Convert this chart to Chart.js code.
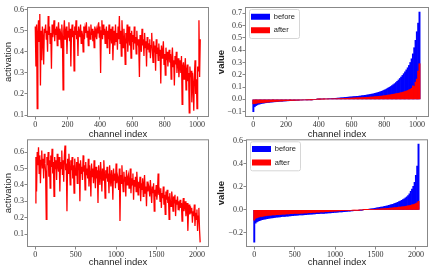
<!DOCTYPE html>
<html>
<head>
<meta charset="utf-8">
<script src="https://cdn.jsdelivr.net/npm/chart.js@4/dist/chart.umd.min.js"></script>
<style>
  body { margin: 0; background: #fff; }
  #wrap { position: relative; width: 436px; height: 269px; overflow: hidden; }
  canvas { position: absolute; }
</style>
</head>
<body>
<div id="wrap">
  <canvas id="act-top" width="218" height="140" style="left:0;top:0"></canvas>
  <canvas id="val-top" width="224" height="140" style="left:212px;top:0"></canvas>
  <canvas id="act-bottom" width="218" height="135" style="left:0;top:134px"></canvas>
  <canvas id="val-bottom" width="224" height="135" style="left:212px;top:134px"></canvas>
</div>
<script>
// ! activation per channel (every 4th channel of 1024)
const actTopStep = 4;
const actTop = [
  0.52,0.33,0.53,0.13,0.49,0.55,0.45,0.58,0.24,0.50,0.36,0.52,0.47,0.34,0.51,0.49,
  0.53,0.46,0.50,0.40,0.57,0.48,0.52,0.44,0.49,0.32,0.53,0.47,0.50,0.55,0.45,0.51,
  0.48,0.52,0.43,0.50,0.54,0.46,0.51,0.49,0.42,0.53,0.47,0.22,0.50,0.55,0.46,0.49,
  0.52,0.39,0.50,0.47,0.54,0.45,0.51,0.33,0.49,0.53,0.47,0.50,0.31,0.52,0.48,0.55,
  0.46,0.50,0.38,0.52,0.49,0.47,0.53,0.44,0.50,0.48,0.40,0.52,0.46,0.51,0.49,0.54,
  0.47,0.50,0.43,0.52,0.49,0.46,0.53,0.48,0.51,0.45,0.50,0.42,0.52,0.48,0.50,0.46,
  0.51,0.49,0.54,0.47,0.52,0.30,0.50,0.55,0.46,0.53,0.48,0.51,0.44,0.49,0.52,0.42,
  0.50,0.46,0.53,0.39,0.48,0.51,0.44,0.52,0.36,0.47,0.50,0.43,0.53,0.45,0.49,0.41,
  0.52,0.46,0.57,0.44,0.50,0.38,0.55,0.47,0.42,0.51,0.46,0.34,0.49,0.44,0.53,0.40,
  0.47,0.52,0.43,0.49,0.37,0.50,0.45,0.48,0.41,0.52,0.44,0.47,0.39,0.50,0.43,0.46,
  0.42,0.28,0.48,0.44,0.40,0.51,0.43,0.46,0.38,0.49,0.42,0.45,0.33,0.47,0.41,0.44,
  0.40,0.46,0.37,0.43,0.49,0.41,0.35,0.45,0.40,0.43,0.31,0.46,0.39,0.42,0.36,0.44,
  0.38,0.41,0.25,0.43,0.37,0.40,0.45,0.34,0.39,0.29,0.42,0.36,0.40,0.33,0.38,0.41,
  0.35,0.39,0.27,0.37,0.42,0.33,0.36,0.24,0.38,0.34,0.40,0.30,0.35,0.37,0.28,0.33,
  0.36,0.30,0.38,0.15,0.33,0.35,0.27,0.32,0.37,0.22,0.31,0.34,0.26,0.30,0.11,0.33,
  0.28,0.31,0.16,0.30,0.25,0.12,0.29,0.36,0.20,0.27,0.13,0.33,0.31,0.55,0.28,0.46
];

// ! activation per channel (every 8th channel of 2048)
const actBottomStep = 8;
const actBottom = [
  0.29,0.57,0.36,0.60,0.52,0.63,0.47,0.58,0.41,0.55,0.61,0.50,0.56,0.44,0.59,0.53,
  0.48,0.19,0.57,0.52,0.60,0.45,0.55,0.38,0.58,0.51,0.62,0.47,0.54,0.33,0.57,0.50,
  0.55,0.43,0.59,0.52,0.48,0.57,0.36,0.54,0.50,0.61,0.46,0.55,0.42,0.58,0.64,0.49,
  0.53,0.24,0.56,0.47,0.59,0.51,0.40,0.55,0.49,0.57,0.44,0.52,0.35,0.56,0.50,0.46,
  0.54,0.41,0.57,0.49,0.53,0.30,0.55,0.47,0.51,0.43,0.58,0.48,0.52,0.37,0.54,0.46,
  0.50,0.44,0.56,0.39,0.52,0.47,0.33,0.53,0.45,0.50,0.41,0.55,0.46,0.38,0.51,0.44,
  0.49,0.29,0.52,0.45,0.40,0.54,0.47,0.36,0.50,0.43,0.55,0.46,0.32,0.49,0.44,0.51,
  0.42,0.47,0.35,0.52,0.44,0.39,0.49,0.45,0.31,0.50,0.43,0.47,0.38,0.53,0.41,0.46,
  0.44,0.37,0.50,0.18,0.46,0.41,0.52,0.43,0.36,0.48,0.42,0.45,0.33,0.49,0.40,0.44,
  0.46,0.38,0.42,0.50,0.35,0.44,0.40,0.47,0.31,0.43,0.39,0.45,0.36,0.48,0.41,0.34,
  0.42,0.38,0.45,0.30,0.41,0.37,0.44,0.33,0.40,0.46,0.35,0.39,0.27,0.42,0.36,0.40,
  0.38,0.33,0.43,0.36,0.29,0.39,0.35,0.41,0.24,0.37,0.33,0.40,0.31,0.36,0.47,0.34,
  0.36,0.30,0.38,0.26,0.35,0.32,0.39,0.28,0.34,0.22,0.36,0.31,0.37,0.29,0.33,0.19,
  0.35,0.30,0.27,0.36,0.32,0.24,0.33,0.29,0.34,0.21,0.31,0.28,0.33,0.25,0.30,0.27,
  0.31,0.26,0.29,0.18,0.28,0.32,0.24,0.27,0.30,0.21,0.26,0.29,0.12,0.25,0.28,0.22,
  0.27,0.23,0.26,0.17,0.24,0.21,0.28,0.15,0.23,0.19,0.25,0.12,0.21,0.26,0.13,0.05
];

// ! sorted values, 1024 channels (every 8th)
const valTopStep = 8;
const beforeTop = [
  -0.100,-0.060,-0.050,-0.045,-0.040,-0.037,-0.034,-0.032,
  -0.030,-0.028,-0.027,-0.025,-0.024,-0.023,-0.022,-0.021,
  -0.020,-0.019,-0.018,-0.017,-0.016,-0.015,-0.015,-0.014,
  -0.013,-0.012,-0.012,-0.011,-0.010,-0.010,-0.009,-0.008,
  -0.008,-0.007,-0.007,-0.006,-0.005,-0.005,-0.004,-0.004,
  -0.003,-0.003,-0.002,-0.002,-0.001,-0.001,0.000,0.000,
  0.000,0.001,0.001,0.002,0.002,0.003,0.003,0.004,
  0.004,0.005,0.006,0.006,0.007,0.008,0.008,0.009,
  0.010,0.011,0.012,0.013,0.014,0.015,0.016,0.017,
  0.018,0.019,0.020,0.021,0.022,0.023,0.024,0.025,
  0.026,0.027,0.028,0.030,0.031,0.033,0.034,0.036,
  0.038,0.040,0.042,0.044,0.046,0.049,0.052,0.055,
  0.058,0.062,0.066,0.070,0.075,0.080,0.086,0.092,
  0.098,0.105,0.112,0.120,0.128,0.137,0.147,0.158,
  0.170,0.182,0.195,0.209,0.224,0.240,0.257,0.276,
  0.300,0.330,0.370,0.420,0.480,0.550,0.620,0.710
];
const afterTop = [
  -0.036,-0.034,-0.032,-0.030,-0.029,-0.028,-0.027,-0.026,
  -0.025,-0.024,-0.023,-0.022,-0.021,-0.020,-0.019,-0.018,
  -0.017,-0.016,-0.016,-0.015,-0.014,-0.013,-0.013,-0.012,
  -0.011,-0.011,-0.010,-0.010,-0.009,-0.009,-0.008,-0.008,
  -0.007,-0.007,-0.006,-0.006,-0.005,-0.005,-0.004,-0.004,
  -0.003,-0.003,-0.002,-0.002,-0.001,-0.001,0.000,0.000,
  0.000,0.001,0.001,0.001,0.002,0.002,0.002,0.003,
  0.003,0.003,0.004,0.004,0.004,0.005,0.005,0.005,
  0.006,0.006,0.007,0.007,0.007,0.008,0.008,0.009,
  0.009,0.010,0.010,0.011,0.011,0.012,0.012,0.013,
  0.013,0.014,0.014,0.015,0.015,0.016,0.017,0.017,
  0.018,0.019,0.019,0.020,0.021,0.022,0.023,0.024,
  0.025,0.026,0.027,0.028,0.030,0.031,0.033,0.035,
  0.036,0.038,0.040,0.042,0.044,0.046,0.048,0.050,
  0.052,0.055,0.058,0.061,0.064,0.068,0.072,0.077,
  0.082,0.090,0.110,0.105,0.140,0.165,0.230,0.290
];

// ! sorted values, 2048 channels (every 16th)
const valBottomStep = 16;
const beforeBottom = [
  -0.280,-0.115,-0.105,-0.098,-0.093,-0.089,-0.086,-0.083,
  -0.080,-0.078,-0.076,-0.074,-0.072,-0.070,-0.069,-0.067,
  -0.066,-0.064,-0.063,-0.062,-0.061,-0.059,-0.058,-0.057,
  -0.056,-0.055,-0.054,-0.053,-0.052,-0.051,-0.050,-0.049,
  -0.048,-0.047,-0.046,-0.045,-0.044,-0.043,-0.043,-0.042,
  -0.041,-0.040,-0.039,-0.038,-0.038,-0.037,-0.036,-0.035,
  -0.034,-0.034,-0.033,-0.032,-0.031,-0.030,-0.030,-0.029,
  -0.028,-0.027,-0.026,-0.026,-0.025,-0.024,-0.023,-0.022,
  -0.021,-0.020,-0.019,-0.018,-0.017,-0.016,-0.015,-0.014,
  -0.013,-0.012,-0.011,-0.010,-0.009,-0.008,-0.006,-0.005,
  -0.004,-0.003,-0.002,-0.001,0.000,0.001,0.002,0.003,
  0.005,0.006,0.008,0.009,0.011,0.013,0.015,0.017,
  0.019,0.021,0.023,0.025,0.028,0.030,0.033,0.036,
  0.039,0.042,0.045,0.049,0.053,0.057,0.061,0.066,
  0.071,0.077,0.083,0.089,0.096,0.104,0.113,0.123,
  0.140,0.160,0.180,0.205,0.240,0.300,0.380,0.570
];
const afterBottom = [
  -0.090,-0.075,-0.068,-0.064,-0.061,-0.058,-0.056,-0.054,
  -0.052,-0.050,-0.049,-0.048,-0.047,-0.046,-0.045,-0.044,
  -0.043,-0.042,-0.041,-0.041,-0.040,-0.039,-0.038,-0.038,
  -0.037,-0.036,-0.036,-0.035,-0.034,-0.034,-0.033,-0.032,
  -0.032,-0.031,-0.030,-0.030,-0.029,-0.028,-0.028,-0.027,
  -0.026,-0.026,-0.025,-0.024,-0.024,-0.023,-0.022,-0.022,
  -0.021,-0.020,-0.020,-0.019,-0.018,-0.018,-0.017,-0.016,
  -0.016,-0.015,-0.014,-0.014,-0.013,-0.012,-0.012,-0.011,
  -0.010,-0.010,-0.009,-0.008,-0.008,-0.007,-0.006,-0.006,
  -0.005,-0.005,-0.004,-0.004,-0.003,-0.003,-0.002,-0.002,
  -0.001,-0.001,0.000,0.000,0.000,0.001,0.001,0.002,
  0.002,0.003,0.003,0.004,0.004,0.005,0.005,0.006,
  0.007,0.007,0.008,0.009,0.010,0.011,0.012,0.013,
  0.014,0.015,0.016,0.017,0.018,0.019,0.020,0.022,
  0.023,0.024,0.026,0.027,0.029,0.031,0.033,0.035,
  0.037,0.040,0.043,0.046,0.050,0.055,0.062,0.075
];

// ! tick labels
const ticks1024 = [0, 200, 400, 600, 800, 1000];
const ticks2048 = [0, 500, 1000, 1500, 2000];
const ticksActTop = [0.1, 0.2, 0.3, 0.4, 0.5, 0.6];
const ticksValTop = [-0.1, 0.0, 0.1, 0.2, 0.3, 0.4, 0.5, 0.6, 0.7];
const ticksActBottom = [0.1, 0.2, 0.3, 0.4, 0.5, 0.6];
const ticksValBottom = [-0.2, 0.0, 0.2, 0.4, 0.6];

const spine = '#888888';
const tickFont = { family: "'Liberation Serif', serif", size: 8 };
const titleFont = { family: "'Liberation Sans', sans-serif", size: 9.5 };

function points(values, step) {
  return values.map((v, i) => ({ x: i * step, y: v }));
}

function fmtY(v) {
  return (v < -1e-9 ? '\u2212' : '') + Math.abs(v).toFixed(1);
}

// ! box around the plot area, like matplotlib spines
const framePlugin = {
  id: 'frame',
  afterDatasetsDraw(chart) {
    const a = chart.chartArea;
    const ctx = chart.ctx;
    ctx.save();
    ctx.strokeStyle = spine;
    ctx.lineWidth = 1;
    ctx.strokeRect(a.left + 0.5, a.top + 0.5, a.right - a.left - 1, a.bottom - a.top - 1);
    ctx.restore();
  }
};

// ! legend sits in the upper left of the plot, with a light rounded box
const legendFrame = {
  id: 'legendFrame',
  afterLayout(chart) {
    // vertical legends get top = 0, move it down into the plot area
    const lg = chart.legend;
    if (!lg) return;
    const dy = chart.chartArea.top - lg.top;
    lg.top += dy;
    lg.bottom += dy;
    for (const h of lg.legendHitBoxes) h.top += dy;
  },
  beforeDraw(chart) {
    const lg = chart.legend;
    if (!lg || !lg.legendHitBoxes || !lg.legendHitBoxes.length) return;
    const hb = lg.legendHitBoxes;
    let l = Infinity, t = Infinity, r = -Infinity, b = -Infinity;
    for (const h of hb) {
      l = Math.min(l, h.left); t = Math.min(t, h.top);
      r = Math.max(r, h.left + h.width); b = Math.max(b, h.top + h.height);
    }
    const ctx = chart.ctx;
    const x = l - 2, y = t - 4, w = r - l + 6, h = b - t + 8;
    ctx.save();
    ctx.beginPath();
    ctx.roundRect(x + 0.5, y + 0.5, w, h, 2);
    ctx.fillStyle = 'rgba(255,255,255,0.8)';
    ctx.fill();
    ctx.strokeStyle = '#d6d6d6';
    ctx.lineWidth = 1;
    ctx.stroke();
    ctx.restore();
  }
};

function xAxis(min, max, ticks, height, titlePad) {
  return {
    type: 'linear', min: min, max: max, offset: false,
    afterBuildTicks: s => { s.ticks = ticks.map(v => ({ value: v })); },
    afterFit: s => { s.height = height; },
    grid: { display: true, offset: false, drawOnChartArea: false, drawTicks: true, tickLength: 2.5, color: spine },
    border: { display: false },
    ticks: { font: tickFont, color: '#333', padding: 1, maxRotation: 0, autoSkip: false, callback: v => String(v) },
    title: { display: true, text: 'channel index', font: titleFont, color: '#222', padding: { top: 0, bottom: titlePad } }
  };
}

function yAxis(min, max, ticks, width, label, bold, titlePad) {
  return {
    type: 'linear', min: min, max: max,
    afterBuildTicks: s => { s.ticks = ticks.map(v => ({ value: v })); },
    afterFit: s => { s.width = width; },
    grid: { display: true, drawOnChartArea: false, drawTicks: true, tickLength: 2.5, color: spine },
    border: { display: false },
    ticks: { font: tickFont, color: '#333', padding: 0.5, autoSkip: false, callback: v => fmtY(v) },
    title: {
      display: true, text: label, color: '#222',
      font: Object.assign({}, titleFont, { weight: bold ? 'bold' : 'normal' }),
      padding: { top: titlePad, bottom: 0 }
    }
  };
}

function activationChart(id, values, step, xr, xt, yr, yt, pad, xh, yw, xPad, yPad) {
  new Chart(id, {
    type: 'line',
    data: {
      datasets: [{
        data: points(values, step),
        borderColor: '#ff0000',
        borderWidth: 1.3,
        pointRadius: 0,
        tension: 0
      }]
    },
    options: {
      responsive: false,
      animation: false,
      layout: { padding: pad },
      plugins: { legend: { display: false }, tooltip: { enabled: false } },
      scales: {
        x: xAxis(xr[0], xr[1], xt, xh, xPad),
        y: yAxis(yr[0], yr[1], yt, yw, 'activation', false, yPad)
      }
    },
    plugins: [framePlugin]
  });
}

function valueChart(id, before, after, step, xr, xt, yr, yt, pad, xh, yw, xPad, yPad) {
  new Chart(id, {
    type: 'bar',
    data: {
      datasets: [
        { label: 'before', data: points(before, step), backgroundColor: '#0000ff', borderWidth: 0,
          grouped: false, order: 1, barPercentage: 1, categoryPercentage: 1 },
        { label: 'after', data: points(after, step), backgroundColor: '#ff0000', borderWidth: 0,
          grouped: false, order: 0, barPercentage: 1, categoryPercentage: 1 }
      ]
    },
    options: {
      responsive: false,
      animation: false,
      layout: { padding: pad },
      plugins: {
        tooltip: { enabled: false },
        legend: {
          position: 'chartArea', align: 'start',
          labels: {
            boxWidth: 19, boxHeight: 6, padding: 6, color: '#222',
            font: { family: "'Liberation Sans', sans-serif", size: 7.5 },
            sort: (a, b) => a.datasetIndex - b.datasetIndex
          }
        }
      },
      scales: {
        x: xAxis(xr[0], xr[1], xt, xh, xPad),
        y: yAxis(yr[0], yr[1], yt, yw, 'value', true, yPad)
      }
    },
    plugins: [legendFrame, framePlugin]
  });
}

activationChart('act-top', actTop, actTopStep, [-51.15, 1074.15], ticks1024,
  [0.0905, 0.613], ticksActTop, { top: 7, right: 9, left: 0, bottom: 0 }, 23, 27, 0.3, 3.1);

valueChart('val-top', beforeTop, afterTop, valTopStep, [-51.15, 1074.15], ticks1024,
  [-0.143, 0.751], ticksValTop, { top: 7, right: 7, left: 0, bottom: 0 }, 23, 33, 0.3, 3.5);

activationChart('act-bottom', actBottom, actBottomStep, [-102.35, 2149.35], ticks2048,
  [0.0217, 0.678], ticksActBottom, { top: 4, right: 9, left: 0, bottom: 0 }, 22, 27, 0.5, 3.1);

valueChart('val-bottom', beforeBottom, afterBottom, valBottomStep, [-102.35, 2149.35], ticks2048,
  [-0.3225, 0.6125], ticksValBottom, { top: 4, right: 8, left: 0, bottom: 0 }, 22, 34, 0.5, 3.5);
</script>
</body>
</html>
